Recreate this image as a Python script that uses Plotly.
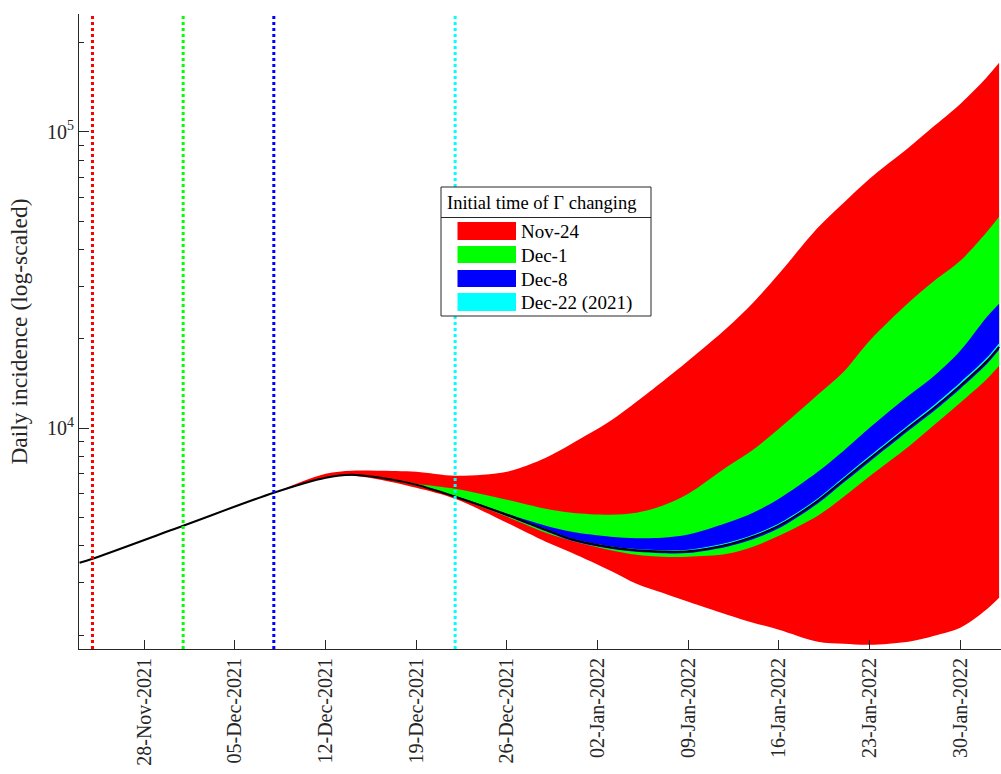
import plotly.graph_objects as go

# ---- data ----
dates = ["2021-11-23", "2021-11-24", "2021-12-01", "2021-12-08", "2021-12-12",
         "2021-12-14", "2021-12-16", "2021-12-19", "2021-12-22", "2021-12-26",
         "2021-12-29", "2021-12-31", "2022-01-03", "2022-01-05", "2022-01-07",
         "2022-01-09", "2022-01-12", "2022-01-14", "2022-01-16", "2022-01-19",
         "2022-01-21", "2022-01-23", "2022-01-26", "2022-01-28", "2022-01-30",
         "2022-02-01", "2022-02-02"]

baseline = [3511, 3620, 4680, 6048, 6796, 6957, 6820, 6436, 5863, 5097, 4537,
            4214, 3960, 3869, 3830, 3840, 4038, 4297, 4680, 5683, 6691, 7879,
            10020, 11710, 13900, 16740, 18810]

# Nov-24 scenario (from 2021-11-24)
red_upper = [3620, 4680, 6060, 7010, 7177, 7177, 7121, 6902, 7121, 7940, 8851,
             10580, 12270, 14330, 16870, 21800, 26480, 33180, 47430, 57600, 69410,
             88310, 104800, 124300, 152100, 171000]
red_lower = [3620, 4680, 6040, 6780, 6900, 6720, 6290, 5772, 4790, 4134, 3795,
             3299, 2982, 2781, 2593, 2344, 2203, 2086, 1900, 1871, 1856, 1900,
             1991, 2118, 2437, 2675]

# Dec-1 scenario (from 2021-12-01)
green_upper = [4680, 6048, 6800, 6960, 6830, 6490, 6238, 5728, 5340, 5177, 5097,
               5177, 5467, 6002, 7403, 8450, 9945, 12950, 15490, 19710, 26480,
               31410, 36690, 45620, 51660]
green_lower = [4680, 6048, 6790, 6950, 6800, 6400, 5840, 5018, 4432, 4165, 3869,
               3736, 3678, 3678, 3765, 3976, 4330, 5058, 5863, 6876, 8648, 10260,
               12170, 14550, 16230]

# Dec-8 scenario (from 2021-12-08)
blue_upper = [6048, 6800, 6960, 6825, 6450, 5909, 5137, 4680, 4467, 4297, 4248,
              4260, 4370, 4790, 5177, 5772, 7121, 8384, 10020, 12850, 15020,
              18230, 23570, 26270]
blue_lower = [6048, 6790, 6950, 6810, 6420, 5840, 5040, 4480, 4160, 3910, 3820,
              3780, 3785, 3977, 4215, 4585, 5560, 6545, 7700, 9790, 11440, 13580,
              16350, 18370]

# Dec-22 scenario (from 2021-12-22)
cyan_upper = [5863, 5115, 4560, 4240, 3990, 3905, 3870, 3885, 4100, 4365, 4760,
              5785, 6820, 8040, 10240, 11990, 14250, 17190, 19350]
cyan_lower = [5863, 5097, 4537, 4214, 3960, 3869, 3830, 3840, 4038, 4297, 4680,
              5683, 6691, 7879, 10020, 11710, 13900, 16740, 18810]

scenario_names = ["Nov-24", "Dec-1", "Dec-8", "Dec-22 (2021)"]
scenario_starts = ["2021-11-24", "2021-12-01", "2021-12-08", "2021-12-22"]
scenario_colors = ["#ff0000", "#00ff00", "#0000ff", "#00ffff"]
legend_title = "Initial time of \u0393 changing"

x_tickvals = ["2021-11-28", "2021-12-05", "2021-12-12", "2021-12-19", "2021-12-26",
              "2022-01-02", "2022-01-09", "2022-01-16", "2022-01-23", "2022-01-30"]
x_ticktext = ["28-Nov-2021", "05-Dec-2021", "12-Dec-2021", "19-Dec-2021", "26-Dec-2021",
              "02-Jan-2022", "09-Jan-2022", "16-Jan-2022", "23-Jan-2022", "30-Jan-2022"]
y_tickvals = [1e4, 1e5]
y_ticktext = ["10<sup>4</sup>", "10<sup>5</sup>"]
y_minor = [2000, 3000, 4000, 5000, 6000, 7000, 8000, 9000,
           20000, 30000, 40000, 50000, 60000, 70000, 80000, 90000, 200000]

FONT = "Liberation Serif"
AX = "#262626"
W, H = 1001, 774
ML, MR, MT, MB = 79, 0, 14, 125
PW, PH = W - ML - MR, H - MT - MB


def px(xp):
    return (xp - ML) / PW


def py(yp):
    return (H - MB - yp) / PH


fig = go.Figure()

bands = [(red_upper, red_lower), (green_upper, green_lower),
         (blue_upper, blue_lower), (cyan_upper, cyan_lower)]
for (up, lo), name, col, start in zip(bands, scenario_names, scenario_colors, scenario_starts):
    i0 = dates.index(start)
    xs = dates[i0:]
    fig.add_trace(go.Scatter(x=xs, y=lo, mode="lines",
                             line=dict(width=0, shape="spline", smoothing=0.9, color=col),
                             showlegend=False, hoverinfo="skip"))
    fig.add_trace(go.Scatter(x=xs, y=up, mode="lines", name=name, showlegend=False,
                             line=dict(width=0, shape="spline", smoothing=0.9, color=col),
                             fill="tonexty", fillcolor=col))

fig.add_trace(go.Scatter(x=dates, y=baseline, mode="lines", showlegend=False,
                         line=dict(color="black", width=2, shape="spline", smoothing=0.9)))

for start, col in zip(scenario_starts, scenario_colors):
    fig.add_shape(type="line", xref="x", yref="paper", x0=start, x1=start, y0=0, y1=1,
                  line=dict(color=col, width=3, dash="dot"), layer="above")

# ---- legend box (MATLAB style, with title separator) ----
bx0, bx1, by0, by1 = 441, 651, 187, 316
fig.add_shape(type="rect", xref="paper", yref="paper",
              x0=px(bx0), x1=px(bx1), y0=py(by1), y1=py(by0),
              line=dict(color=AX, width=1), fillcolor="white", layer="above")
fig.add_shape(type="line", xref="paper", yref="paper",
              x0=px(bx0), x1=px(bx1), y0=py(217.5), y1=py(217.5),
              line=dict(color=AX, width=1), layer="above")
fig.add_annotation(xref="paper", yref="paper", x=px(541), y=py(203),
                   text=legend_title, showarrow=False, xanchor="center", yanchor="middle",
                   font=dict(family=FONT, size=18.5, color="black"))
rows = [(222, 240), (246, 263), (270, 287), (293, 311)]
for (r0, r1), name, col in zip(rows, scenario_names, scenario_colors):
    fig.add_shape(type="rect", xref="paper", yref="paper",
                  x0=px(457.5), x1=px(516), y0=py(r1), y1=py(r0),
                  line=dict(width=0), fillcolor=col, layer="above")
    fig.add_annotation(xref="paper", yref="paper", x=px(519), y=py((r0 + r1) / 2 + 0.5),
                       text=name, showarrow=False, xanchor="left", yanchor="middle",
                       font=dict(family=FONT, size=19, color="black"))

fig.update_layout(
    width=W, height=H,
    margin=dict(l=ML, r=MR, t=MT, b=MB),
    paper_bgcolor="white", plot_bgcolor="white",
    font=dict(family=FONT, color=AX, size=19),
    showlegend=False,
)

fig.update_xaxes(
    type="date", range=["2021-11-22 23:00", "2022-02-02 03:30"], automargin=False,
    tickmode="array", tickvals=x_tickvals, ticktext=x_ticktext, tickangle=-90,
    ticks="inside", ticklen=9, tickcolor=AX, tickwidth=1,
    showline=True, linecolor=AX, linewidth=1, showgrid=False, zeroline=False,
    tickfont=dict(family=FONT, size=20, color=AX),
)
fig.update_yaxes(
    type="log", range=[3.254, 5.398], automargin=False,
    tickmode="array", tickvals=y_tickvals, ticktext=y_ticktext,
    ticks="inside", ticklen=10, tickcolor=AX, tickwidth=1,
    minor=dict(tickmode="array", tickvals=y_minor, ticks="inside", ticklen=5, tickcolor=AX),
    showline=True, linecolor=AX, linewidth=1, showgrid=False, zeroline=False,
    tickfont=dict(family=FONT, size=20, color=AX),
    title=dict(text="Daily incidence (log-scaled)", font=dict(family=FONT, size=23.5, color=AX), standoff=12),
)

fig.write_html(
    "out.html",
    config={"displayModeBar": False},
    post_script="document.body.style.margin='0';document.body.style.padding='0';"
                "document.body.style.overflow='hidden';",
)
